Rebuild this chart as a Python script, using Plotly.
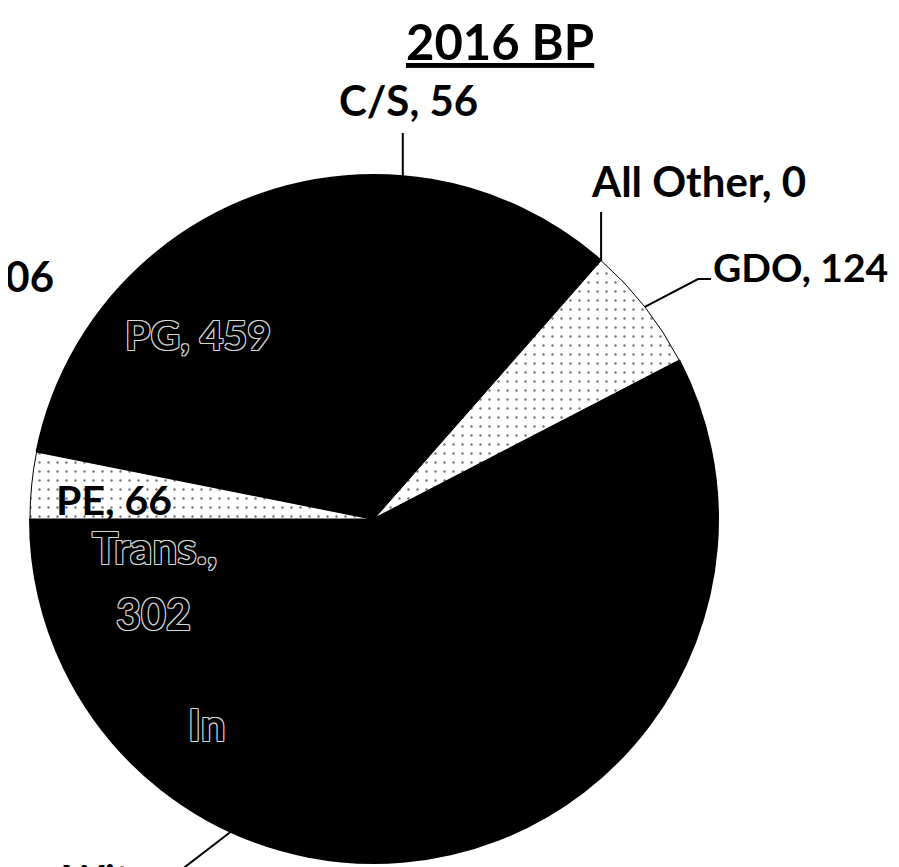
import math
import plotly.graph_objects as go

# ---- data (clockwise from 12 o'clock) ----
categories = ["C/S", "Unlabeled", "All Other", "GDO", "In", "Wit", "Trans.", "PE", "PG"]
values = [56, 185, 0, 124, 749, 159, 302, 66, 459]
slice_colors = ["#000000", "#000000", "#000000", "#f4f4f4", "#000000", "#000000", "#000000", "#ececec", "#000000"]
title_text = "2016 BP"
side_label = "106"  # partially visible label at left edge

W, H = 899, 867
CX, CY, R = 366, 511, 344  # pie centre / radius in pixels


def px(x):
    return x / W


def py(y):
    return 1 - y / H


total = sum(values)
mid_angle = {}
cum = 0
for c, v in zip(categories, values):
    mid_angle[c] = (cum + v / 2) / total * 360
    cum += v


def edge(cat):
    a = math.radians(mid_angle[cat])
    return CX + R * math.sin(a), CY - R * math.cos(a)


line_widths = [1 if col != "#000000" else 2 for col in slice_colors]
patterns = ["." if col != "#000000" else "" for col in slice_colors]

fig = go.Figure()
fig.add_trace(go.Pie(
    labels=categories,
    values=values,
    sort=False,
    direction="clockwise",
    rotation=0,
    textinfo="none",
    hoverinfo="skip",
    showlegend=False,
    marker=dict(colors=slice_colors, line=dict(color="#000000", width=line_widths),
                pattern=dict(shape=patterns, fgcolor="#777777", size=9, solidity=0.06)),
    domain=dict(x=[px(CX - R), px(CX + R)], y=[py(CY + R), py(CY - R)]),
))

FONT = "Lato"
oc = "#d8d8d8"
outline = f"1px 1px 0 {oc}, -1px -1px 0 {oc}, 1px -1px 0 {oc}, -1px 1px 0 {oc}"
ann = []


def label(text, x, y, size, xanchor="center", yanchor="middle", inside=False, under=False):
    f = dict(family=FONT, size=size, color="#000000", weight=700)
    if inside:
        f["shadow"] = outline
    if under:
        f["lineposition"] = "under"
    ann.append(dict(text=text, x=px(x), y=py(y), xref="paper", yref="paper",
                    xanchor=xanchor, yanchor=yanchor, showarrow=False, font=f))


label(title_text, 492, 33, 49, under=True)
label(f"{categories[0]}, {values[0]}", 400, 92, 42)
label(f"{categories[2]}, {values[2]}", 690, 173, 42)
label(f"{categories[3]}, {values[3]}", 792, 259, 39)
label(side_label, 48, 268, 42, xanchor="right")
label(f"{categories[7]}, {values[7]}", 106, 491, 41)
label(f"{categories[8]}, {values[8]}", 190, 326, 41, inside=True)
label(f"{categories[6]},", 146, 539, 44, inside=True)
label(f"{values[6]}", 145, 605, 43, inside=True)
label(categories[4], 178, 716, 44, xanchor="left", inside=True)
label(categories[5], 53, 845, 40, xanchor="left", yanchor="top")

shapes = []


def leader(points):
    path = "M " + " L ".join(f"{px(x)},{py(y)}" for x, y in points)
    shapes.append(dict(type="path", path=path, xref="paper", yref="paper",
                       line=dict(color="#000000", width=2)))


ex, ey = edge("C/S")
leader([(ex, ey), (ex, 125)])
ex, ey = edge("All Other")
leader([(ex, ey), (ex, 204)])
ex, ey = edge("GDO")
leader([(ex, ey), (690, 271), (703, 271)])
ex, ey = edge("Wit")
leader([(ex, ey), (160, 872)])

fig.update_layout(
    width=W, height=H,
    margin=dict(l=0, r=0, t=0, b=0),
    paper_bgcolor="#ffffff",
    plot_bgcolor="#ffffff",
    annotations=ann,
    shapes=shapes,
)
fig.write_html("out.html")
